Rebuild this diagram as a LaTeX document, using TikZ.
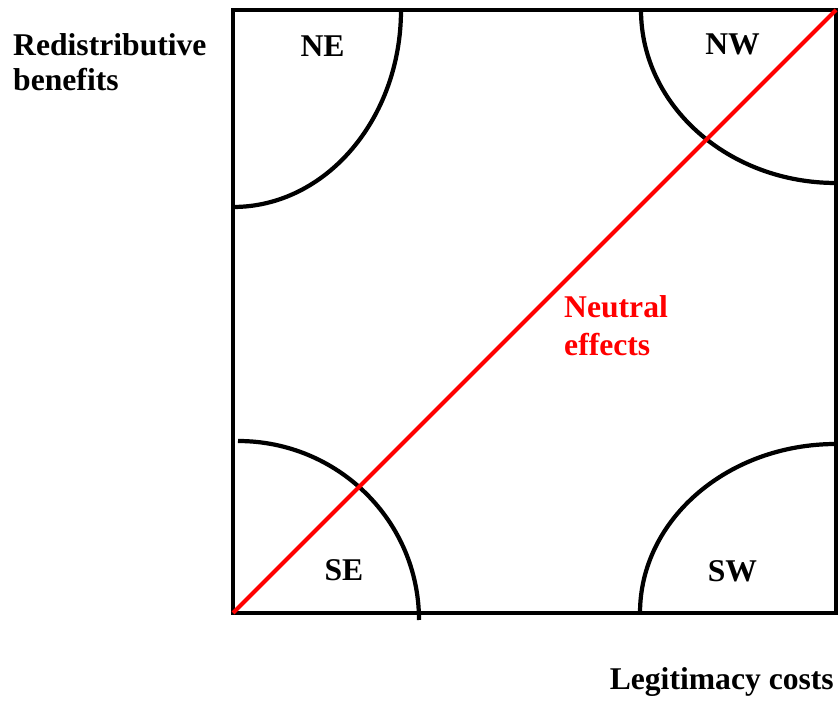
\documentclass[tikz,border=0pt]{standalone}
\usepackage{fontspec}
\setmainfont{Liberation Serif}
\usepackage{xcolor}
\usetikzlibrary{positioning}
\definecolor{neutralred}{RGB}{255,0,0}
\tikzset{
  frame/.style   = {draw=black, line width=3.8pt},
  zone/.style    = {draw=black, line width=3.6pt},
  axislab/.style = {font=\fontsize{27}{30}\selectfont\bfseries, inner sep=0pt, align=left},
  corner/.style  = {font=\fontsize{27}{30}\selectfont\bfseries, inner sep=0pt},
}

\begin{document}
\begin{tikzpicture}[
    x=0.03cm, y=0.03cm,
    diag/.style={draw=neutralred, line width=3.6pt},
    diaglab/.style={font=\fontsize{27}{32.4}\selectfont\bfseries, text=neutralred,
                    inner sep=0pt, align=left}
]
\useasboundingbox (0,0) rectangle (840,704);

% square
\coordinate (bl) at (233,91);
\coordinate (tr) at (836,694);
\draw[frame] (bl) rectangle (tr);

% quarter arcs in the corners
\draw[zone] (401,694) arc[start angle=0, end angle=-90, x radius=168, y radius=197];
\draw[zone] (641,694) arc[start angle=180, end angle=270, x radius=195, y radius=173];
\draw[zone] (238,263) arc[start angle=90, end angle=0, x radius=181, y radius=179];
\draw[zone] (640,91) arc[start angle=180, end angle=90, x radius=196, y radius=169];

% diagonal
\draw[diag] (bl) -- (tr);

% corner labels
\node[corner] (ne) at (322.5,658) {NE};
\node[corner] (nw) at (732.5,659.5) {NW};
\node[corner] (se) at (344,133.5) {SE};
\node[corner] (sw) at (732.5,132.5) {SW};

% axis labels
\node[axislab, anchor=north west] (ylab) at (13,671) {Redistributive\\benefits};
\node[axislab, anchor=base east] (xlab) at (834,14) {Legitimacy costs};
\node[diaglab, anchor=north west] (neutral) at (564,409) {Neutral\\effects};

\end{tikzpicture}
\end{document}
